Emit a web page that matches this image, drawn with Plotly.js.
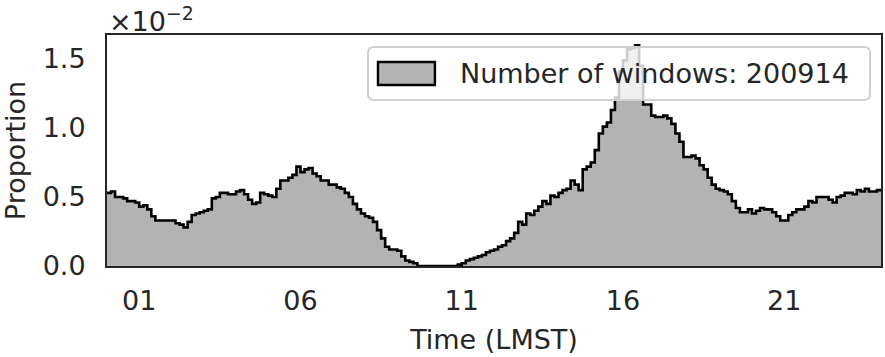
<!DOCTYPE html>
<html>
<head>
<meta charset="utf-8">
<script src="https://cdn.plot.ly/plotly-3.0.1.min.js"></script>
<style>html,body{margin:0;padding:0;background:#fff}#chart{width:885px;height:357px}</style>
</head>
<body>
<div id="chart"></div>
<script>
// Histogram of window start times (LMST hours), proportion per bin (x 1e-2)
const binStart = 0;
const binWidth = 0.125;
const proportion = [
  0.53,0.54,0.50,0.50,0.49,0.47,0.47,0.46,0.43,0.44,0.41,0.36,0.33,0.33,0.33,0.33,
  0.33,0.31,0.30,0.28,0.32,0.37,0.38,0.39,0.40,0.41,0.49,0.50,0.53,0.53,0.52,0.52,
  0.54,0.55,0.52,0.48,0.45,0.46,0.53,0.52,0.51,0.50,0.56,0.62,0.62,0.64,0.66,0.72,
  0.68,0.70,0.71,0.67,0.65,0.62,0.62,0.59,0.59,0.57,0.56,0.53,0.50,0.45,0.41,0.38,
  0.36,0.35,0.32,0.26,0.20,0.14,0.12,0.12,0.11,0.07,0.04,0.03,0.02,0.00,0.00,0.00,
  0.00,0.00,0.00,0.00,0.00,0.00,0.00,0.01,0.02,0.04,0.05,0.06,0.07,0.08,0.10,0.11,
  0.12,0.14,0.15,0.18,0.20,0.24,0.32,0.30,0.38,0.37,0.40,0.43,0.47,0.45,0.51,0.50,
  0.53,0.55,0.56,0.62,0.59,0.55,0.70,0.72,0.75,0.84,0.96,1.01,1.04,1.13,1.22,1.41,
  1.49,1.57,1.58,1.60,1.45,1.17,1.17,1.09,1.08,1.08,1.09,1.07,1.03,0.96,0.90,0.79,
  0.79,0.80,0.78,0.73,0.70,0.64,0.59,0.56,0.55,0.54,0.52,0.47,0.42,0.39,0.39,0.41,
  0.38,0.40,0.42,0.41,0.41,0.39,0.36,0.33,0.33,0.37,0.39,0.41,0.41,0.43,0.47,0.46,
  0.50,0.50,0.50,0.48,0.46,0.50,0.51,0.53,0.53,0.52,0.55,0.54,0.56,0.54,0.54,0.55
];
const tickValues = [1, 6, 11, 16, 21];
const tickLabels = ["01", "06", "11", "16", "21"];
const yTickValues = [0, 0.5, 1.0, 1.5];
const legendLabel = "Number of windows: 200914";

// step outline from bin edges
const xs = [], ys = [];
for (let i = 0; i < proportion.length; i++) {
  xs.push(binStart + i * binWidth);
  ys.push(proportion[i]);
}
xs.push(binStart + proportion.length * binWidth);
ys.push(proportion[proportion.length - 1]);

const fontFam = "DejaVu Sans, sans-serif";
const txt = "#262626";
const fs = 27;

// rounded legend frame (paper units)
function roundRect(x0, x1, y0, y1, rx, ry) {
  return `M${x0+rx},${y0} L${x1-rx},${y0} Q${x1},${y0} ${x1},${y0+ry} ` +
         `L${x1},${y1-ry} Q${x1},${y1} ${x1-rx},${y1} L${x0+rx},${y1} ` +
         `Q${x0},${y1} ${x0},${y1-ry} L${x0},${y0+ry} Q${x0},${y0} ${x0+rx},${y0} Z`;
}

const trace = {
  type: "scatter", mode: "lines",
  x: xs, y: ys,
  line: {shape: "hv", color: "#000000", width: 2.6},
  fill: "tozeroy", fillcolor: "#b3b3b3",
  name: legendLabel, showlegend: false, hoverinfo: "skip"
};

const layout = {
  width: 885, height: 357,
  margin: {l: 107, r: 4, t: 35, b: 91},
  paper_bgcolor: "#ffffff", plot_bgcolor: "#ffffff",
  font: {family: fontFam, color: txt, size: fs},
  showlegend: false,
  xaxis: {
    range: [0, 24], tickmode: "array", tickvals: tickValues, ticktext: tickLabels,
    showgrid: false, zeroline: false, showline: true, mirror: true,
    linecolor: "#262626", linewidth: 2,
    ticks: "outside", ticklen: 10, tickcolor: "rgba(0,0,0,0)",
    tickfont: {family: fontFam, size: fs, color: txt},
    title: {text: "Time (LMST)", font: {family: fontFam, size: fs, color: txt}, standoff: 15}
  },
  yaxis: {
    range: [0, 1.674], tickmode: "array", tickvals: yTickValues,
    tickformat: ".1f",
    showgrid: false, zeroline: false, showline: true, mirror: true,
    linecolor: "#262626", linewidth: 2,
    ticks: "outside", ticklen: 14, tickcolor: "rgba(0,0,0,0)",
    tickfont: {family: fontFam, size: fs, color: txt},
    title: {text: "Proportion", font: {family: fontFam, size: fs, color: txt}, standoff: 10}
  },
  shapes: [
    {type: "path", xref: "paper", yref: "paper",
     path: roundRect(0.3372, 0.9858, 0.7186, 0.948, 6/774, 6/231),
     fillcolor: "rgba(255,255,255,0.8)", line: {color: "#d0d0d0", width: 2}, layer: "above"},
    {type: "rect", xref: "paper", yref: "paper", x0: 0.3501, x1: 0.4237, y0: 0.7835, y1: 0.883,
     fillcolor: "#b3b3b3", line: {color: "#000000", width: 2.4}, layer: "above"}
  ],
  annotations: [
    {xref: "paper", yref: "paper", x: 0.4535, y: 0.8333, xanchor: "left", yanchor: "middle",
     showarrow: false, text: legendLabel, font: {family: fontFam, size: fs, color: txt}},
    {xref: "paper", yref: "paper", x: 0, y: 1, xanchor: "left", yanchor: "bottom",
     yshift: -4, showarrow: false,
     text: "×10<sup>−2</sup>", font: {family: fontFam, size: fs, color: txt}}
  ]
};

Plotly.newPlot("chart", [trace], layout, {displayModeBar: false, staticPlot: true});
</script>
</body>
</html>
